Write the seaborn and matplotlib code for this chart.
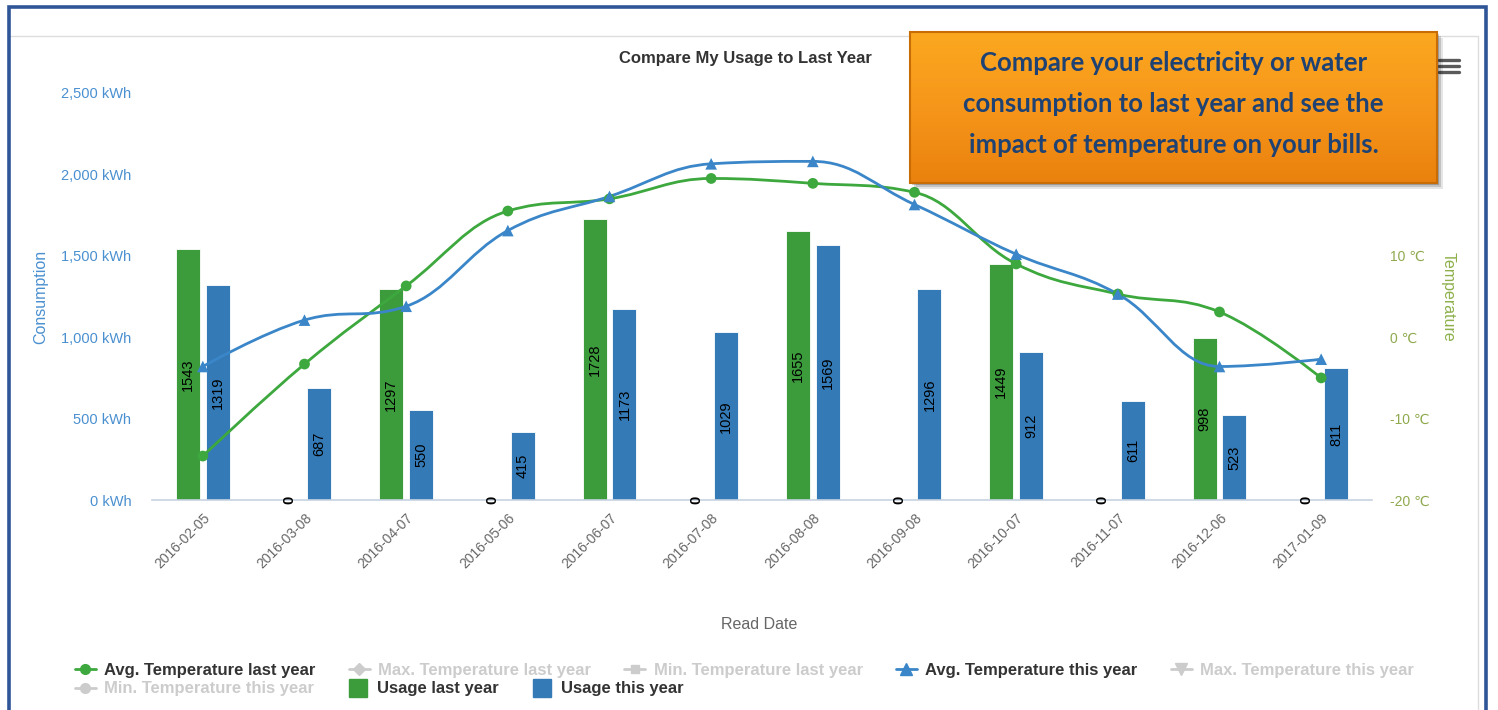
import numpy as np
import pandas as pd
import matplotlib
matplotlib.use("Agg")
import matplotlib.pyplot as plt
import seaborn as sns
from matplotlib.path import Path
from matplotlib.patches import PathPatch, Rectangle
from matplotlib.lines import Line2D
from matplotlib.colors import LinearSegmentedColormap

# ---------------- data ----------------
dates = ["2016-02-05", "2016-03-08", "2016-04-07", "2016-05-06", "2016-06-07", "2016-07-08",
         "2016-08-08", "2016-09-08", "2016-10-07", "2016-11-07", "2016-12-06", "2017-01-09"]
usage_last = [1543, 0, 1297, 0, 1728, 0, 1655, 0, 1449, 0, 998, 0]
usage_this = [1319, 687, 550, 415, 1173, 1029, 1569, 1296, 912, 611, 523, 811]
temp_last = [-14.6, -3.3, 6.3, 15.5, 17.0, 19.5, 18.9, 17.8, 9.0, 5.3, 3.1, -5.0]
temp_this = [-3.6, 2.1, 3.8, 13.1, 17.3, 21.3, 21.6, 16.3, 10.2, 5.3, -3.6, -2.7]
usage_ticks = [0, 500, 1000, 1500, 2000, 2500]
temp_ticks = [-20, -10, 0, 10]
series_names = ["Usage last year", "Usage this year"]
legend_row1 = ["Avg. Temperature last year", "Max. Temperature last year", "Min. Temperature last year",
               "Avg. Temperature this year", "Max. Temperature this year"]
legend_row2 = ["Min. Temperature this year", "Usage last year", "Usage this year"]
callout_lines = ["Compare your electricity or water",
                 "consumption to last year and see the",
                 "impact of temperature on your bills."]

GREEN = "#3C9C3C"
BLUE = "#337AB7"
LINE_BLUE = "#3A86C8"
LINE_GREEN = "#3DA83D"
AX_BLUE = "#4A90D0"
AX_OLIVE = "#8FA94E"
GRAY_TXT = "#666666"
HIDDEN = "#CCCCCC"

sns.set_style("white")
plt.rcParams["font.family"] = ["Liberation Sans", "DejaVu Sans"]

W, H = 1498, 710
fig = plt.figure(figsize=(W / 100, H / 100), dpi=100)


def fx(px):
    return px / W


def fy(py):
    return (H - py) / H


# ---------------- main axes ----------------
L, R, T, B = 152, 1372, 93, 500
ax = fig.add_axes([fx(L), fy(B), (R - L) / W, (B - T) / H])
ax.patch.set_visible(False)

df = pd.DataFrame({
    "date": dates * 2,
    "usage": usage_last + usage_this,
    "series": [series_names[0]] * len(dates) + [series_names[1]] * len(dates),
})
sns.barplot(data=df, x="date", y="usage", hue="series", hue_order=series_names,
            order=dates, palette=[GREEN, BLUE], saturation=1, width=0.59, gap=0.2,
            errorbar=None, legend=False, ax=ax, edgecolor="white", linewidth=0.6)

for cont in ax.containers:
    texts = ax.bar_label(cont, fmt="%d", label_type="center", rotation=90,
                         fontsize=10.5, color="black")
    for t in texts:
        if t.get_text() == "0":
            t.set_fontweight("bold")

ax.set_xlim(-0.5, len(dates) - 0.5)
ax.set_ylim(usage_ticks[0], usage_ticks[-1])
ax.set_yticks(usage_ticks)
ax.set_yticklabels([f"{v:,} kWh" for v in usage_ticks])
ax.tick_params(axis="y", length=0, pad=15, labelsize=10.5, labelcolor=AX_BLUE)

ax.set_xticks(range(len(dates)))
ax.set_xticklabels(dates, rotation=45, ha="right", rotation_mode="anchor")
ax.tick_params(axis="x", which="major", length=0, pad=8, labelsize=10, labelcolor=GRAY_TXT)
ax.set_xticks(np.arange(-0.5, len(dates), 1.0), minor=True)
ax.tick_params(axis="x", which="minor", length=7, width=1, color="#C6D3E2", direction="out")

for s in ["left", "right", "top"]:
    ax.spines[s].set_visible(False)
ax.spines["bottom"].set_color("#C6D3E2")
ax.spines["bottom"].set_linewidth(1.2)

ax.set_ylabel("Consumption", fontsize=11.5, color=AX_BLUE)
ax.yaxis.set_label_coords((48 - L) / (R - L), 0.5)
ax.set_xlabel("Read Date", fontsize=11.5, color=GRAY_TXT)
ax.xaxis.set_label_coords(0.498, -(617 - B) / (B - T))

# ---------------- temperature axis ----------------
ax2 = ax.twinx()
ax2.patch.set_visible(False)
ax2.set_ylim(-20, 30)
ax2.set_yticks(temp_ticks)
ax2.set_yticklabels([f"{v} ℃" for v in temp_ticks])
ax2.tick_params(axis="y", length=0, pad=13, labelsize=10, labelcolor=AX_OLIVE)
for s in ax2.spines.values():
    s.set_visible(False)
ax2.set_ylabel("Temperature", fontsize=11.5, color="#8DB04B", rotation=-90)
ax2.yaxis.set_label_coords((1456 - L) / (R - L), 0.5)


def spline_path(xs, ys, smoothing=1.5):
    n = len(xs)
    denom = smoothing + 1
    lc = [None] * n
    rc = [None] * n
    for i in range(1, n - 1):
        lx, ly = xs[i - 1], ys[i - 1]
        nx, ny = xs[i + 1], ys[i + 1]
        px, py = xs[i], ys[i]
        lcx = (smoothing * px + lx) / denom
        lcy = (smoothing * py + ly) / denom
        rcx = (smoothing * px + nx) / denom
        rcy = (smoothing * py + ny) / denom
        corr = ((rcy - lcy) * (rcx - px)) / (rcx - lcx) + py - rcy
        lcy += corr
        rcy += corr
        if lcy > ly and lcy > py:
            lcy = max(ly, py)
            rcy = 2 * py - lcy
        elif lcy < ly and lcy < py:
            lcy = min(ly, py)
            rcy = 2 * py - lcy
        if rcy > ny and rcy > py:
            rcy = max(ny, py)
            lcy = 2 * py - rcy
        elif rcy < ny and rcy < py:
            rcy = min(ny, py)
            lcy = 2 * py - rcy
        lc[i] = (lcx, lcy)
        rc[i] = (rcx, rcy)
    verts = [(xs[0], ys[0])]
    codes = [Path.MOVETO]
    for i in range(1, n):
        c1 = rc[i - 1] if rc[i - 1] is not None else (xs[i - 1], ys[i - 1])
        c2 = lc[i] if lc[i] is not None else (xs[i], ys[i])
        verts += [c1, c2, (xs[i], ys[i])]
        codes += [Path.CURVE4] * 3
    return Path(verts, codes)


xpos = list(range(len(dates)))
ax2.add_patch(PathPatch(spline_path(xpos, temp_last), facecolor="none",
                        edgecolor=LINE_GREEN, lw=2, zorder=3))
ax2.add_patch(PathPatch(spline_path(xpos, temp_this), facecolor="none",
                        edgecolor=LINE_BLUE, lw=2, zorder=3))
sns.scatterplot(x=xpos, y=temp_last, ax=ax2, marker="o", s=60, color=LINE_GREEN,
                edgecolor="none", zorder=4, legend=False)
sns.scatterplot(x=xpos, y=temp_this, ax=ax2, marker="^", s=70, color=LINE_BLUE,
                edgecolor="none", zorder=4, legend=False)
ax2.set_xlim(-0.5, len(dates) - 0.5)

# ---------------- title ----------------
fig.text(fx(745), fy(58), "Compare My Usage to Last Year", ha="center", va="center",
         fontsize=12, fontweight="bold", color="#333333")

# ---------------- legends ----------------
leg_font = {"family": ["Liberation Sans", "DejaVu Sans"], "weight": "bold", "size": 12}
h1 = [
    Line2D([], [], color=LINE_GREEN, lw=2, marker="o", ms=7),
    Line2D([], [], color=HIDDEN, lw=2, marker="D", ms=6),
    Line2D([], [], color=HIDDEN, lw=2, marker="s", ms=6),
    Line2D([], [], color=LINE_BLUE, lw=2, marker="^", ms=8),
    Line2D([], [], color=HIDDEN, lw=2, marker="v", ms=8),
]
h2 = [
    Line2D([], [], color=HIDDEN, lw=2, marker="o", ms=7),
    Line2D([], [], color=GREEN, ls="none", marker="s", ms=13),
    Line2D([], [], color=BLUE, ls="none", marker="s", ms=13),
]
common = dict(frameon=False, borderpad=0, borderaxespad=0, handlelength=1.25,
              handletextpad=0.5, columnspacing=2.0, prop=leg_font)
lg1 = fig.legend(h1, legend_row1, loc="center left", bbox_to_anchor=(fx(75), fy(670)),
                 ncol=5, **common)
lg2 = fig.legend(h2, legend_row2, loc="center left", bbox_to_anchor=(fx(75), fy(689)),
                 ncol=3, **common)
for lg, active in ((lg1, [0, 3]), (lg2, [1, 2])):
    for i, t in enumerate(lg.get_texts()):
        t.set_color("#333333" if i in active else HIDDEN)

# ---------------- frame decorations ----------------
fig.add_artist(Line2D([fx(10), fx(1478)], [fy(36), fy(36)], color="#DDDDDD", lw=1))
fig.add_artist(Line2D([fx(1478), fx(1478)], [fy(36), fy(712)], color="#DDDDDD", lw=1))
for yy in (60, 66, 72):
    fig.add_artist(Line2D([fx(1439), fx(1459)], [fy(yy), fy(yy)], color="#5A5A5A",
                          lw=2.4, solid_capstyle="round"))
fig.add_artist(Rectangle((fx(8.5), fy(720)), (1486 - 8.5) / W, (720 - 7.5) / H,
                         fill=False, edgecolor="#2F5597", lw=2.6, zorder=10))

# ---------------- orange callout ----------------
bx0, by0, bx1, by1 = 910, 32, 1437, 183
for k, a in ((6, 0.10), (4, 0.15), (2, 0.2)):
    fig.add_artist(Rectangle((fx(bx0 + k), fy(by1 + k)), (bx1 - bx0) / W, (by1 - by0) / H,
                             facecolor="black", edgecolor="none", alpha=a, zorder=5))
bax = fig.add_axes([fx(bx0), fy(by1), (bx1 - bx0) / W, (by1 - by0) / H])
bax.set_zorder(6)
cmap = LinearSegmentedColormap.from_list("org", ["#FBA820", "#F6961A", "#EA810E"])
bax.imshow(np.linspace(0, 1, 200)[:, None], aspect="auto", cmap=cmap,
           extent=[0, 1, 0, 1], origin="upper")
bax.add_patch(Rectangle((0, 0), 1, 1, transform=bax.transAxes, fill=False,
                        edgecolor="#C86C06", lw=1.5, clip_on=False))
bax.set_axis_off()
for i, line in enumerate(callout_lines):
    bax.text(0.5, (by1 - (63 + 41 * i)) / (by1 - by0), line, transform=bax.transAxes,
             ha="center", va="center", fontsize=18.5, fontweight="bold", color="#1E4273",
             family=["Lato", "DejaVu Sans"])

fig.savefig("out.png", dpi=100)
